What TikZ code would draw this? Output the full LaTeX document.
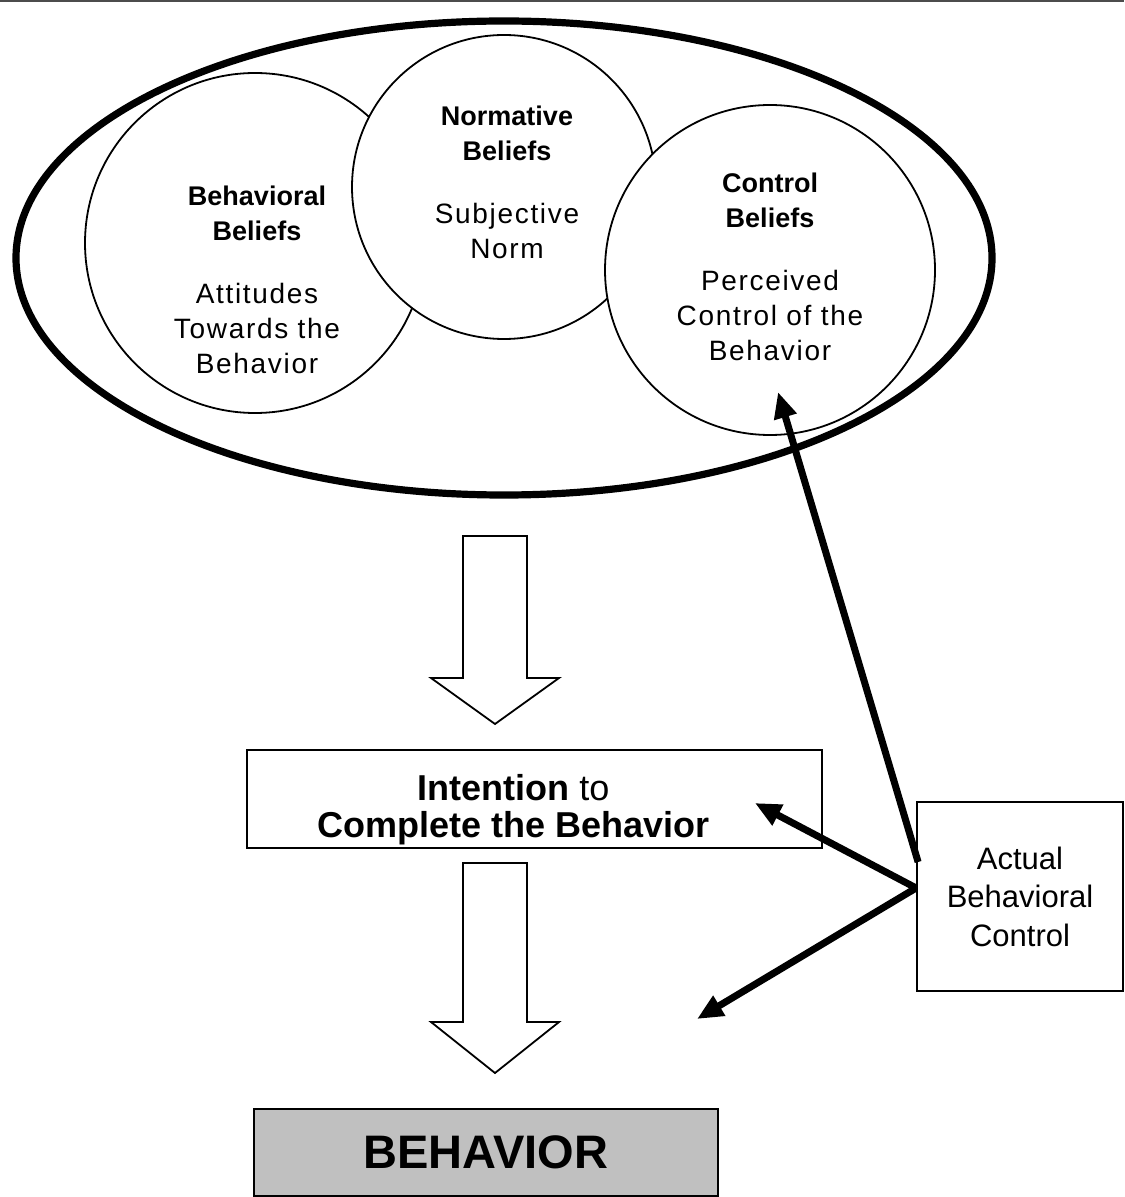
\documentclass[tikz,border=0pt]{standalone}
\usepackage{fontspec}
\setmainfont{Liberation Sans}
\usetikzlibrary{arrows.meta,calc,positioning}
\definecolor{behaviorGray}{RGB}{192,192,192}
\newfontfamily\widesans[LetterSpace=6]{Liberation Sans}
\newcommand\regtext{\widesans\fontsize{14}{17.5}\selectfont}
\newcommand\bhead[1]{{\rmfamily\fontsize{13.5}{17.5}\selectfont\bfseries #1}}

\begin{document}
\begin{tikzpicture}[x=0.5pt,y=-0.5pt,
  belief/.style={circle,draw,fill=white,line width=0.9pt,inner sep=0pt},
  btext/.style={align=center,font=\regtext},
  box/.style={rectangle,draw,line width=0.9pt,align=center,inner sep=0pt},
  arr/.style={-{Triangle[length=13pt,width=11pt]},line width=3.5pt},
  block/.style={draw,line width=0.9pt,fill=white,line join=miter}
]
  \useasboundingbox (0,0) rectangle (1124,1197);
  \draw[gray!60!black,line width=1pt] (0,1) -- (1124,1);
  % belief circles inside the ellipse
  \node[belief,minimum size=170pt](bb) at (255,243) {};
  \node[belief,minimum size=152pt](nb) at (504,187) {};
  \node[belief,minimum size=165pt](cb) at (770,270) {};
  \draw[line width=3.6pt] (504,258) ellipse [x radius=488,y radius=237];
  \node[btext](bbt) at ($(bb)+(2,37)$)
    {\bhead{Behavioral}\\\bhead{Beliefs}\\[14pt]Attitudes\\Towards the\\Behavior};
  \node[btext](nbt) at ($(nb)+(3,-5)$)
    {\bhead{Normative}\\\bhead{Beliefs}\\[14pt]Subjective\\Norm};
  \node[btext](cbt) at ($(cb)+(0,-3)$)
    {\bhead{Control}\\\bhead{Beliefs}\\[14pt]Perceived\\Control of the\\Behavior};
  % boxes
  \node[box,minimum width=287.5pt,minimum height=49pt](int) at (534.5,799) {};
  \node[align=center,font=\fontsize{18}{18.5}\selectfont](intt) at ($(int)+(-21,11)$)
    {\textbf{Intention} to\\\textbf{Complete the Behavior}};
  \node[box,minimum width=103pt,minimum height=94.5pt,font=\fontsize{15.5}{19.25}\selectfont]
    (abc) at (1020,896.5) {Actual\\Behavioral\\Control};
  \node[box,fill=behaviorGray,line width=1.1pt,minimum width=232pt,minimum height=43.5pt,
    font=\fontsize{23.5}{28}\selectfont\bfseries] (bhv) at (486,1152.5) {BEHAVIOR};
  % block arrows
  \draw[block] (463,536) -- (527,536) -- (527,678) -- (559,678) -- (495,724)
    -- (431,678) -- (463,678) -- cycle;
  \draw[block] (463,863) -- (527,863) -- (527,1022) -- (559,1022) -- (495,1073)
    -- (431,1022) -- (463,1022) -- cycle;
  % actual control arrows
  \coordinate (cbtip) at ($(cb)+(8,122)$);
  \coordinate (inttip) at ($(int.east)+(-68,4)$);
  \coordinate (bhvtip) at (697,1019);
  \draw[arr] ($(abc.west)+(2,-34.5)$) -- (cbtip);
  \draw[arr] ($(abc.west)+(0,-8.5)$) -- (inttip);
  \draw[arr] ($(abc.west)+(0,-8.5)$) -- (bhvtip);
\end{tikzpicture}
\end{document}
